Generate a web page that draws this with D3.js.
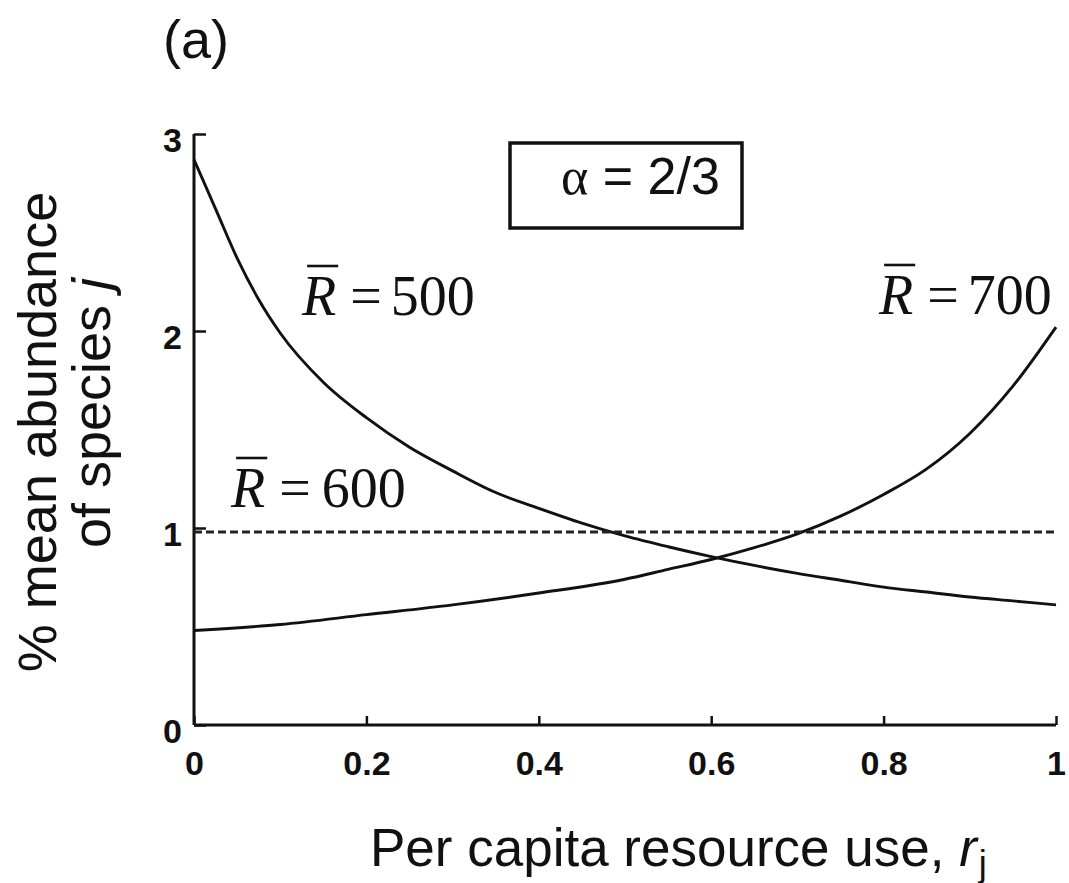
<!DOCTYPE html>
<html><head><meta charset="utf-8">
<script src="https://cdn.jsdelivr.net/npm/d3@7"></script>
<style>body{margin:0;background:#fff}svg{display:block}</style>
</head><body>
<svg id="c" width="1069" height="883"></svg>
<script>
// ---- data ----
const rValues = [0,0.025,0.05,0.075,0.1,0.15,0.2,0.25,0.3,0.35,0.4,0.45,0.5,0.55,0.6,0.65,0.7,0.75,0.8,0.85,0.9,0.95,1];
const abundR500 = [2.87,2.62,2.37,2.16,1.99,1.74,1.56,1.41,1.29,1.18,1.10,1.025,0.96,0.905,0.855,0.81,0.77,0.735,0.70,0.675,0.65,0.63,0.61];
const rValues700 = [0,0.1,0.2,0.3,0.4,0.5,0.55,0.6,0.65,0.7,0.75,0.8,0.85,0.9,0.95,1];
const abundR700 = [0.48,0.51,0.56,0.61,0.67,0.74,0.79,0.84,0.90,0.97,1.06,1.17,1.30,1.48,1.72,2.02];
const rValues600 = [0,1];
const abundR600 = [0.98,0.98];
const xTicks = [0,0.2,0.4,0.6,0.8,1];
const xTickLabels = ["0","0.2","0.4","0.6","0.8","1"];
const yTicks = [0,1,2,3];
const yTickLabels = ["0","1","2","3"];

const svg = d3.select("#c");
const x = d3.scaleLinear().domain([0,1]).range([194,1056]);
const y = d3.scaleLinear().domain([0,3]).range([725,134]);
const sans = "'Liberation Sans', Arial, sans-serif";
const serif = "'Liberation Serif', 'Times New Roman', serif";

// axes
const xAxis = d3.axisBottom(x).tickValues(xTicks).tickSize(-9).tickFormat((d,i)=>xTickLabels[i]).tickPadding(24);
const yAxis = d3.axisLeft(y).tickValues(yTicks).tickSize(-12).tickFormat((d,i)=>yTickLabels[i]).tickPadding(12);
const gx = svg.append("g").attr("transform","translate(0,725)").call(xAxis);
const gy = svg.append("g").attr("transform","translate(194,0)").call(yAxis);
[gx,gy].forEach(g=>{
  g.select(".domain").attr("stroke","#111").attr("stroke-width",3);
  g.selectAll(".tick line").attr("stroke","#111").attr("stroke-width",2.5);
  g.selectAll(".tick text").attr("font-family",sans).attr("font-weight","bold").attr("font-size",34).attr("fill","#111");
});
gx.select(".domain").attr("d", `M${x(0)},0H${x(1)}`);
gy.select(".domain").attr("d", `M0,${y(0)}V${y(3)}`);
gy.selectAll(".tick text").attr("dy","0.52em");
gx.selectAll(".tick text").attr("dy","0.75em");

// curves
const line = d3.line().x(d=>x(d[0])).y(d=>y(d[1])).curve(d3.curveMonotoneX);
svg.append("path").datum(rValues.map((r,i)=>[r,abundR500[i]])).attr("d",line)
  .attr("fill","none").attr("stroke","#111").attr("stroke-width",2.9);
svg.append("path").datum(rValues700.map((r,i)=>[r,abundR700[i]])).attr("d",line)
  .attr("fill","none").attr("stroke","#111").attr("stroke-width",2.9);
svg.append("path").datum(rValues600.map((r,i)=>[r,abundR600[i]])).attr("d",line)
  .attr("fill","none").attr("stroke","#222").attr("stroke-width",3).attr("stroke-dasharray","8,4");

// alpha box
svg.append("rect").attr("x",510).attr("y",143).attr("width",232).attr("height",85)
  .attr("fill","none").attr("stroke","#111").attr("stroke-width",3.5);
const at = svg.append("text").attr("x",561).attr("y",194).attr("font-size",52).attr("fill","#111");
at.append("tspan").attr("font-family",serif).text("α");
at.append("tspan").attr("font-family",sans).text(" = 2/3");

// R-bar labels
function rLabel(xp, yp, val, dx2){
  const t = svg.append("text").attr("x",xp).attr("y",yp).attr("font-family",serif).attr("font-size",56).attr("fill","#111");
  const rt = t.append("tspan").attr("font-style","italic").text("R");
  t.append("tspan").attr("dx",14).text("=");
  t.append("tspan").attr("dx",dx2).text(val);
  const w = rt.node().getComputedTextLength();
  svg.append("line").attr("x1",xp+w*0.15).attr("x2",xp+w+2).attr("y1",yp-49).attr("y2",yp-49)
    .attr("stroke","#111").attr("stroke-width",2.6);
}
rLabel(302,315,"500",9);
rLabel(879,314,"700",9);
rLabel(231,507,"600",11);

// (a)
svg.append("text").attr("x",163).attr("y",58).attr("font-family",sans).attr("font-size",54).attr("fill","#111").text("(a)");

// y label
svg.append("text").attr("transform","translate(56,432) rotate(-90)").attr("text-anchor","middle")
  .attr("font-family",sans).attr("font-size",54).attr("fill","#111").text("% mean abundance");
const yl2 = svg.append("text").attr("transform","translate(110,413) rotate(-90)").attr("text-anchor","middle")
  .attr("font-family",sans).attr("font-size",54).attr("fill","#111");
yl2.append("tspan").text("of species ");
yl2.append("tspan").attr("font-style","italic").text("j");

// x label
const xl = svg.append("text").attr("x",370).attr("y",866).attr("font-family",sans).attr("font-size",53).attr("fill","#111");
xl.append("tspan").text("Per capita resource use, ");
xl.append("tspan").attr("font-style","italic").text("r");
xl.append("tspan").attr("font-size",36).attr("dx",2).attr("dy",10).text("j");
</script>
</body></html>
